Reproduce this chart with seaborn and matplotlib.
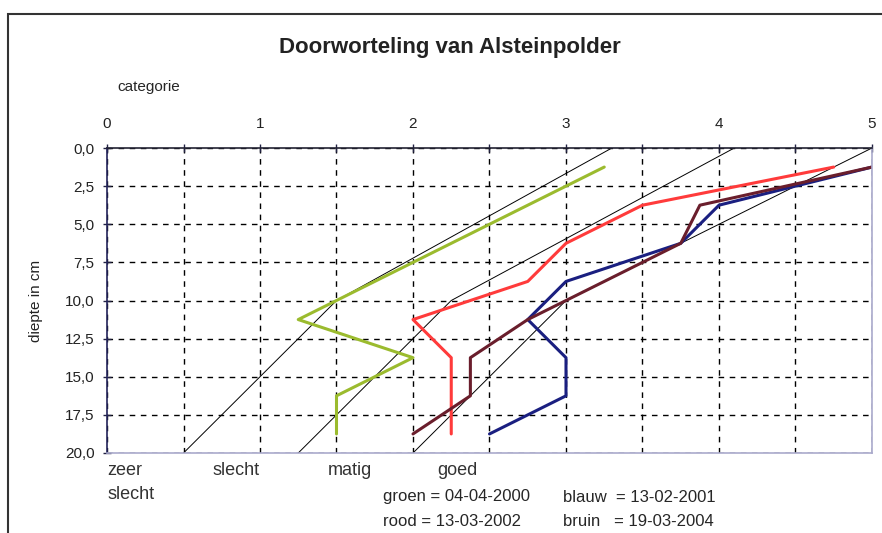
import numpy as np
import pandas as pd
import matplotlib
matplotlib.use('Agg')
import matplotlib.pyplot as plt
from matplotlib.patches import Rectangle
from matplotlib.ticker import MultipleLocator, FuncFormatter
import seaborn as sns

# meetdiepte (midden van elke laag van 2,5 cm)
diepte = [1.25, 3.75, 6.25, 8.75, 11.25, 13.75, 16.25, 18.75]

# doorworteling per meting (categorie 0-5)
groen = [3.25, 2.75, 2.25, 1.75, 1.25, 2.0, 1.5, 1.5]
blauw = [5.0, 4.0, 3.75, 3.0, 2.75, 3.0, 3.0, 2.5]
rood = [4.75, 3.5, 3.0, 2.75, 2.0, 2.25, 2.25, 2.25]
bruin = [5.0, 3.875, 3.75, 3.25, 2.75, 2.375, 2.375, 2.0]

# grenslijnen tussen de categorieen
grens_diepte = [20, 10, 0]
grens1 = [0.5, 1.5, 3.3]
grens2 = [1.25, 2.25, 4.1]
grens3 = [2.0, 3.0, 5.0]

categorie_labels = ['zeer\nslecht', 'slecht', 'matig', 'goed']
categorie_x = [0.0, 0.69, 1.44, 2.16]

sns.set_style('white')
plt.rcParams['font.family'] = ['Liberation Sans Narrow', 'Liberation Sans', 'DejaVu Sans']

fig = plt.figure(figsize=(8.82, 5.33), dpi=100)
ax = fig.add_axes([107 / 882, 1 - 453 / 533, 765 / 882, 305 / 533])

# grenslijnen
for g in [grens1, grens2, grens3]:
    sns.lineplot(x=g, y=grens_diepte, sort=False, estimator=None, color='black', lw=0.7, ax=ax)

series = [(groen, '#9bbb2e'), (blauw, '#1a1f80'), (rood, '#ff3b3b'), (bruin, '#6a1e2c')]
for vals, col in series:
    sns.lineplot(x=vals, y=diepte, sort=False, estimator=None, color=col, lw=2.2, ax=ax)

ax.set_xlim(0, 5)
ax.set_ylim(20, 0)
ax.xaxis.tick_top()
ax.xaxis.set_major_locator(MultipleLocator(1))
ax.xaxis.set_minor_locator(MultipleLocator(0.5))
ax.yaxis.set_major_locator(MultipleLocator(2.5))
ax.yaxis.set_major_formatter(FuncFormatter(lambda v, p: f'{v:.1f}'.replace('.', ',')))
ax.tick_params(axis='x', which='both', top=True, bottom=False, direction='inout', length=6,
               width=1, labelsize=11, pad=9, color='#222244', labelcolor='#222222')
ax.tick_params(axis='y', left=True, direction='inout', length=6, width=1, labelsize=11, pad=6,
               color='#222244', labelcolor='#222222')

ax.grid(True, which='both', axis='x', color='black', ls=(0, (4, 4)), lw=1)
ax.grid(True, which='major', axis='y', color='black', ls=(0, (4, 4)), lw=1)
ax.set_axisbelow(True)

ax.spines['left'].set_color('#22225a')
ax.spines['top'].set_color('#222233')
ax.spines['right'].set_color('#aaaacc')
ax.spines['bottom'].set_color('#aaaacc')
for s in ax.spines.values():
    s.set_linewidth(1.2)

ax.set_xlabel('')
ax.set_ylabel('diepte in cm', fontsize=11, labelpad=16, color='#222222')

fig.text(450 / 882, 1 - 47 / 533, 'Doorworteling van Alsteinpolder', ha='center', va='center',
         fontsize=16, fontweight='bold', color='#222222')
fig.text(117 / 882, 1 - 87 / 533, 'categorie', ha='left', va='center', fontsize=11)

for lab, xv in zip(categorie_labels, categorie_x):
    ax.text(xv, 20.6, lab, ha='left', va='top', fontsize=13, linespacing=1.5, clip_on=False,
            color='#333333')

fig.text(383 / 882, 1 - 497 / 533, 'groen = 04-04-2000', ha='left', va='center', fontsize=12)
fig.text(563 / 882, 1 - 497 / 533, 'blauw  = 13-02-2001', ha='left', va='center', fontsize=12)
fig.text(383 / 882, 1 - 521 / 533, 'rood = 13-03-2002', ha='left', va='center', fontsize=12)
fig.text(563 / 882, 1 - 521 / 533, 'bruin   = 19-03-2004', ha='left', va='center', fontsize=12)

# kader om de grafiek
fig.patches.append(Rectangle((8 / 882, -0.1), 1.0, 1 - 14 / 533 + 0.1, transform=fig.transFigure,
                             fill=False, ec='#333333', lw=1.5))

fig.savefig('out.png', dpi=100)
